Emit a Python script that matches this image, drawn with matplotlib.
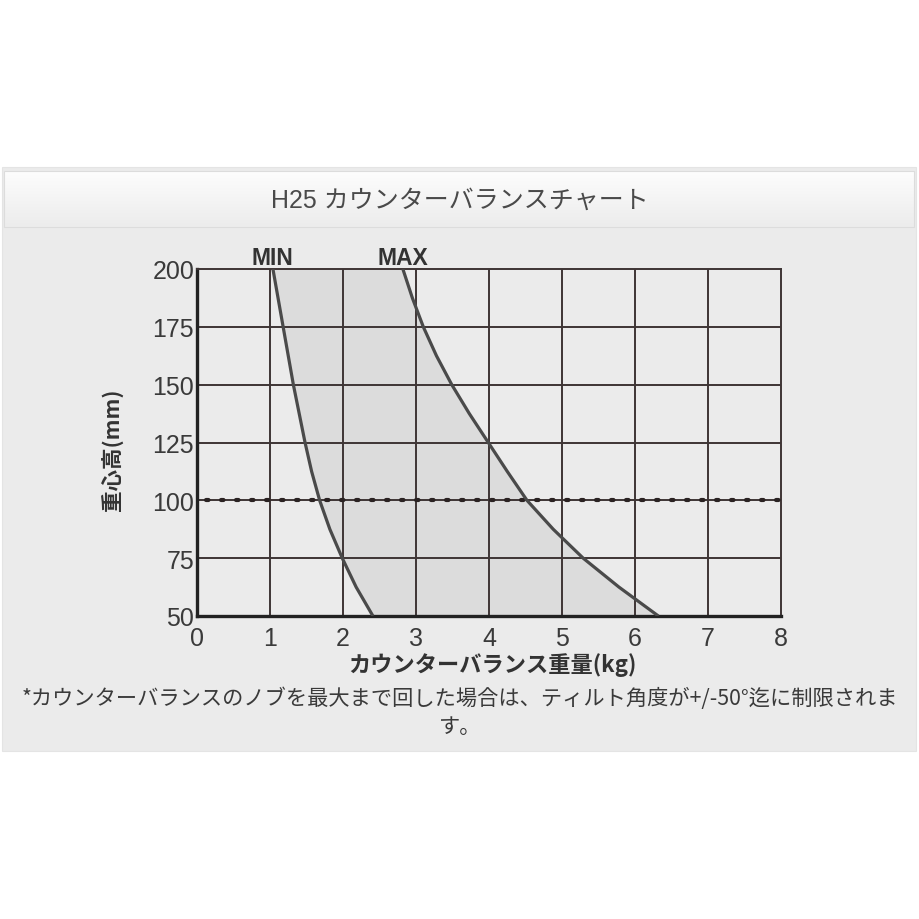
import matplotlib
matplotlib.use("Agg")
import matplotlib.pyplot as plt
from matplotlib.patches import Rectangle
import numpy as np

plt.rcParams['font.family'] = ['Liberation Sans', 'Noto Sans CJK JP', 'DejaVu Sans']

# values: height of centre of gravity (mm) vs counterbalance weight (kg)
heights = [200, 187.5, 175, 162.5, 150, 137.5, 125, 112.5, 100, 87.5, 75, 62.5, 50]
min_weight = [1.04, 1.11, 1.18, 1.25, 1.32, 1.40, 1.48, 1.57, 1.68, 1.82, 1.99, 2.18, 2.41]
max_weight = [2.82, 2.95, 3.10, 3.28, 3.49, 3.73, 3.99, 4.25, 4.52, 4.88, 5.29, 5.78, 6.32]
x_ticks = [0, 1, 2, 3, 4, 5, 6, 7, 8]
y_ticks = [50, 75, 100, 125, 150, 175, 200]
ref_height = 100

title = "H25 カウンターバランスチャート"
x_label = "カウンターバランス重量(kg)"
y_label = "重心高(mm)"
note_1 = "*カウンターバランスのノブを最大まで回した場合は、ティルト角度が+/-50°迄に制限されま"
note_2 = "す。"

W = H = 920
fig = plt.figure(figsize=(9.2, 9.2), dpi=100, facecolor='white')

# background panel, pixel coordinates
bg = fig.add_axes([0, 0, 1, 1])
bg.set_xlim(0, W)
bg.set_ylim(H, 0)
bg.axis('off')
bg.add_patch(Rectangle((2, 168), 914, 584, facecolor='#ebebeb', edgecolor='#e4e4e4', lw=0.8))
# title bar with a soft vertical gradient
grad = np.linspace(0, 1, 64).reshape(-1, 1)
bg.imshow(grad, extent=(4, 914, 228, 172), cmap=matplotlib.colors.LinearSegmentedColormap.from_list(
    'bar', ['#fdfdfd', '#ececec']), aspect='auto', zorder=1)
bg.add_patch(Rectangle((4, 172), 910, 56, facecolor='none', edgecolor='#dcdcdc', lw=0.8, zorder=2))
bg.set_xlim(0, W)
bg.set_ylim(H, 0)

fig.text(460 / W, 1 - 201 / H, title, ha='center', va='center', fontsize=18,
         color='#4a4a4a', family=['Liberation Sans', 'Noto Sans CJK JP'])

# chart
left, right, top, bottom = 197, 781, 270, 617
ax = fig.add_axes([left / W, 1 - bottom / H, (right - left) / W, (bottom - top) / H])
ax.set_facecolor('#ebebeb')
ax.set_xlim(0, 8)
ax.set_ylim(50, 200)

ax.fill_betweenx(heights, min_weight, max_weight, color='#dcdcdc', zorder=1, lw=0)
for xv in x_ticks[1:-1]:
    ax.axvline(xv, color='#3e3535', lw=1.4, zorder=2)
for yv in y_ticks[1:-1]:
    ax.axhline(yv, color='#3e3535', lw=1.4, zorder=2)
ax.axhline(ref_height, xmin=0.015, color='#2a2222', lw=3.0, linestyle=(0, (0.6, 3.0)),
           dash_capstyle='round', zorder=3)
ax.plot(min_weight, heights, color='#4a4a4a', lw=2.3, zorder=4, solid_capstyle='butt')
ax.plot(max_weight, heights, color='#4a4a4a', lw=2.3, zorder=4, solid_capstyle='butt')

for side in ['top', 'right']:
    ax.spines[side].set_color('#3e3535')
    ax.spines[side].set_linewidth(1.4)
for side in ['left', 'bottom']:
    ax.spines[side].set_color('#222222')
    ax.spines[side].set_linewidth(2.4)

ax.set_xticks(x_ticks)
ax.set_yticks(y_ticks)
ax.tick_params(length=0, labelsize=18, labelcolor='#3a3a3a')
ax.tick_params(axis='y', pad=2)
ax.tick_params(axis='x', pad=7)

ax.text(1.03, 200.2, "MIN", ha='center', va='bottom', fontsize=16.5, fontweight='bold',
        color='#333333', clip_on=False)
ax.text(2.82, 200.2, "MAX", ha='center', va='bottom', fontsize=16.5, fontweight='bold',
        color='#333333', clip_on=False)

fig.text(492 / W, 1 - 665 / H, x_label, ha='center', va='center', fontsize=16,
         fontweight='bold', color='#333333', family=['Noto Sans CJK JP'])
fig.text(113 / W, 1 - 450 / H, y_label, ha='center', va='center', fontsize=15.5,
         fontweight='bold', color='#333333', rotation=90, family=['Noto Sans CJK JP'])

fig.text(460 / W, 1 - 699 / H, note_1, ha='center', va='center', fontsize=15.3,
         color='#3a3a3a', family=['Noto Sans CJK JP', 'DejaVu Sans'])
fig.text(460 / W, 1 - 727 / H, note_2, ha='center', va='center', fontsize=15.3,
         color='#3a3a3a', family=['Noto Sans CJK JP', 'DejaVu Sans'])

fig.savefig('out.png', dpi=100, facecolor='white')
